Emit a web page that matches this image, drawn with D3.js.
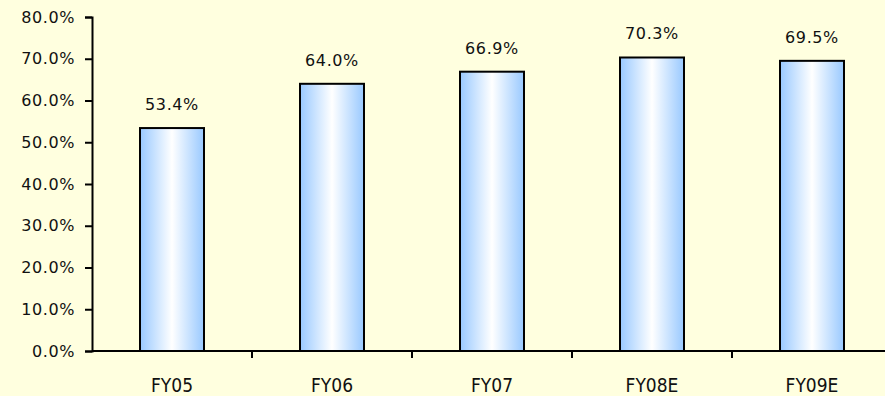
<!DOCTYPE html>
<html>
<head>
<meta charset="utf-8">
<script src="https://cdn.jsdelivr.net/npm/d3@7"></script>
<style>
    body { margin: 0; background: #ffffdf; }
    svg { display: block; }
    text { font-family: "DejaVu Sans", sans-serif; fill: #111; }
</style>
</head>
<body>
<script>
// Chart data
var categories = ["FY05", "FY06", "FY07", "FY08E", "FY09E"];
var values = [53.4, 64.0, 66.9, 70.3, 69.5];
var yTicks = [0, 10, 20, 30, 40, 50, 60, 70, 80];

var width = 885,
    height = 396;

var svg = d3.select("body")
    .append("svg")
    .attr("width", width)
    .attr("height", height);

svg.append("rect")
    .attr("width", width)
    .attr("height", height)
    .attr("fill", "#ffffdf");

// Bar gradient: blue edges, white middle
var grad = svg.append("defs")
    .append("linearGradient")
    .attr("id", "barFill")
    .attr("x1", "0%").attr("x2", "100%")
    .attr("y1", "0%").attr("y2", "0%");
grad.append("stop").attr("offset", "0%").attr("stop-color", "#99c9ff");
grad.append("stop").attr("offset", "50%").attr("stop-color", "#ffffff");
grad.append("stop").attr("offset", "100%").attr("stop-color", "#99c9ff");

var x = d3.scaleBand()
    .domain(categories)
    .range([92, 892])
    .paddingInner(0.6)
    .paddingOuter(0.3);

var y = d3.scaleLinear()
    .domain([0, 80])
    .range([351, 17]);

// Bars
svg.selectAll(".bar")
    .data(values)
    .enter()
    .append("rect")
    .attr("class", "bar")
    .attr("x", function(d, i) { return x(categories[i]); })
    .attr("y", function(d) { return y(d); })
    .attr("width", x.bandwidth())
    .attr("height", function(d) { return y(0) - y(d); })
    .attr("fill", "url(#barFill)")
    .attr("stroke", "#000")
    .attr("stroke-width", 2);

// Value labels
svg.selectAll(".val")
    .data(values)
    .enter()
    .append("text")
    .attr("class", "val")
    .attr("x", function(d, i) { return x(categories[i]) + x.bandwidth() / 2; })
    .attr("y", function(d) { return y(d) - 18; })
    .attr("text-anchor", "middle")
    .style("font-size", "16px")
    .style("letter-spacing", "0.6px")
    .text(function(d) { return d.toFixed(1) + "%"; });

// Y axis
var yAxis = svg.append("g")
    .attr("transform", "translate(92,0)")
    .call(d3.axisLeft(y)
        .tickValues(yTicks)
        .tickSize(7)
        .tickPadding(10)
        .tickFormat(function(d) { return d.toFixed(1) + "%"; }));

yAxis.selectAll("text")
    .style("font-size", "16px")
    .style("letter-spacing", "0.6px")
    .attr("fill", "#111");

// X axis: ticks at category boundaries
var xAxis = svg.append("g")
    .attr("transform", "translate(0,351)");

xAxis.append("line")
    .attr("x1", 92).attr("x2", width)
    .attr("stroke", "#000").attr("stroke-width", 2);

var step = x.step();
xAxis.selectAll(".xtick")
    .data(categories)
    .enter()
    .append("line")
    .attr("class", "xtick")
    .attr("x1", function(d) { return x(d) - x.paddingOuter() * step + step; })
    .attr("x2", function(d) { return x(d) - x.paddingOuter() * step + step; })
    .attr("y1", 0).attr("y2", 7)
    .attr("stroke", "#000").attr("stroke-width", 2);

xAxis.selectAll(".xlab")
    .data(categories)
    .enter()
    .append("text")
    .attr("class", "xlab")
    .attr("x", function(d) { return x(d) + x.bandwidth() / 2; })
    .attr("y", 41)
    .attr("text-anchor", "middle")
    .style("font-family", "'DejaVu Sans Condensed', 'DejaVu Sans', sans-serif")
    .style("font-stretch", "condensed")
    .style("font-size", "19px")
    .text(function(d) { return d; });

yAxis.select(".domain").attr("stroke-width", 2);
yAxis.selectAll(".tick line").attr("stroke-width", 2);
</script>
</body>
</html>
